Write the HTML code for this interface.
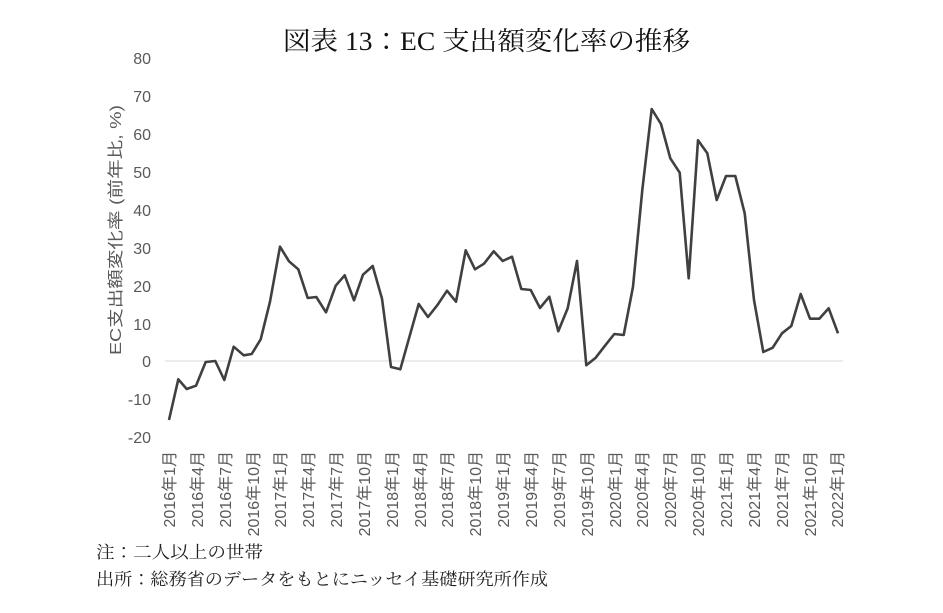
<!DOCTYPE html>
<html><head><meta charset="utf-8"><style>
body{margin:0;background:#fff;}
svg{display:block;}
</style></head><body>
<svg width="943" height="613" xmlns="http://www.w3.org/2000/svg">
<rect width="943" height="613" fill="#fff"/>
<text x="283" y="50" font-family="'Liberation Serif','Noto Serif CJK JP',serif" font-size="26" fill="#111" textLength="407" lengthAdjust="spacingAndGlyphs">図表 13：EC 支出額変化率の推移</text>
<g font-family="'Liberation Sans',sans-serif" font-size="16" fill="#595959" text-anchor="end">
<text x="151" y="64">80</text><text x="151" y="102">70</text><text x="151" y="140">60</text><text x="151" y="178">50</text><text x="151" y="216">40</text><text x="151" y="254">30</text><text x="151" y="292">20</text><text x="151" y="330">10</text><text x="151" y="367">0</text><text x="151" y="405">-10</text><text x="151" y="443">-20</text>
</g>
<text transform="translate(121,230) rotate(-90)" text-anchor="middle" font-family="'Liberation Sans','Noto Sans CJK JP',sans-serif" font-size="16" fill="#595959" textLength="250" lengthAdjust="spacingAndGlyphs">EC支出額変化率 (前年比, %)</text>
<line x1="165" y1="361" x2="843" y2="361" stroke="#d9d9d9" stroke-width="1"/>
<polyline fill="none" stroke="#404040" stroke-width="2.6" stroke-linejoin="round" points="169,420 178.3,379.3 186.7,389 196,385.7 205.7,362 215.3,361 224.3,380 233.7,346.7 243.7,355.3 251.7,354 260.7,339.3 270,301.7 280,246.7 289,261.3 298.3,269.3 307.7,298 316.3,297 326,312.3 335.7,285.7 344.7,275.3 354,300.3 363,274.7 372.7,266 382,298.7 391,367 400.3,369.3 409.3,337.3 418.7,304 428,317 437.7,304.7 447,290.7 456,301.7 465.7,250.3 475,269.3 484,263.7 493.7,251.3 502.7,261 512,256.7 521.3,289 530.7,290 540,308 549.3,296.7 558.3,331.3 567.7,308.3 577,261 586.3,365.3 595.7,357.7 605,345.7 614.3,334 623.7,335 633,286.7 642.3,190 651.7,109 661,124 670.3,158.3 679.7,172.7 688.7,278.3 698,140.3 707.3,153.3 716.7,200 726,176 735.3,176 744.7,213.3 754,300 763.3,352 772.7,347.7 782,333.3 791.3,326 800.7,294 810,318.7 819.3,318.7 828.7,308.3 838,333.3"/>
<g font-family="'Liberation Sans','Noto Sans CJK JP',sans-serif" font-size="16" fill="#595959" text-anchor="end">
<text transform="translate(175,451) rotate(-90)">2016年1月</text>
<text transform="translate(203,451) rotate(-90)">2016年4月</text>
<text transform="translate(231,451) rotate(-90)">2016年7月</text>
<text transform="translate(259,451) rotate(-90)">2016年10月</text>
<text transform="translate(286,451) rotate(-90)">2017年1月</text>
<text transform="translate(314,451) rotate(-90)">2017年4月</text>
<text transform="translate(342,451) rotate(-90)">2017年7月</text>
<text transform="translate(370,451) rotate(-90)">2017年10月</text>
<text transform="translate(398,451) rotate(-90)">2018年1月</text>
<text transform="translate(426,451) rotate(-90)">2018年4月</text>
<text transform="translate(453,451) rotate(-90)">2018年7月</text>
<text transform="translate(481,451) rotate(-90)">2018年10月</text>
<text transform="translate(509,451) rotate(-90)">2019年1月</text>
<text transform="translate(537,451) rotate(-90)">2019年4月</text>
<text transform="translate(565,451) rotate(-90)">2019年7月</text>
<text transform="translate(593,451) rotate(-90)">2019年10月</text>
<text transform="translate(621,451) rotate(-90)">2020年1月</text>
<text transform="translate(648,451) rotate(-90)">2020年4月</text>
<text transform="translate(676,451) rotate(-90)">2020年7月</text>
<text transform="translate(704,451) rotate(-90)">2020年10月</text>
<text transform="translate(732,451) rotate(-90)">2021年1月</text>
<text transform="translate(760,451) rotate(-90)">2021年4月</text>
<text transform="translate(788,451) rotate(-90)">2021年7月</text>
<text transform="translate(816,451) rotate(-90)">2021年10月</text>
<text transform="translate(843,451) rotate(-90)">2022年1月</text>
</g>
<g font-family="'Liberation Serif','Noto Serif CJK JP',serif" font-size="17" fill="#222">
<text x="96" y="558" textLength="167" lengthAdjust="spacingAndGlyphs">注：二人以上の世帯</text>
<text x="96" y="585" textLength="452" lengthAdjust="spacingAndGlyphs">出所：総務省のデータをもとにニッセイ基礎研究所作成</text>
</g>
</svg>
</body></html>
